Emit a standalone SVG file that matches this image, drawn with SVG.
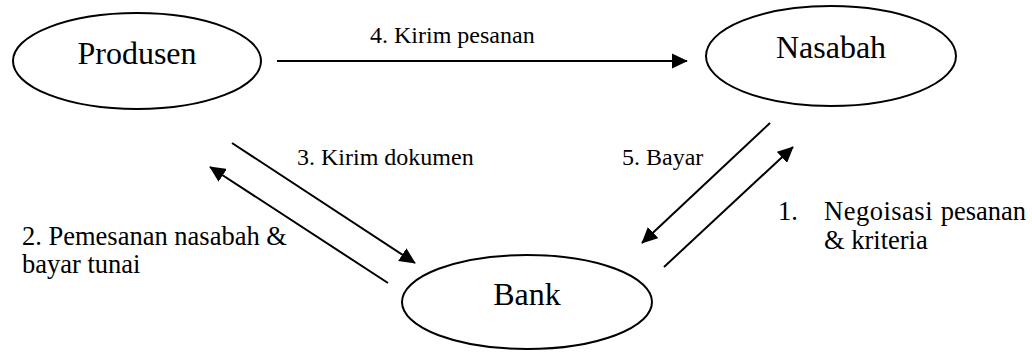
<svg xmlns="http://www.w3.org/2000/svg" width="1032" height="352" viewBox="0 0 1032 352">
<style>
.node{fill:#fff;stroke:#000;stroke-width:2}
.title{font-size:32px;fill:#000;text-anchor:middle}
.lbl{font-size:24px;fill:#000}
.lbl2{font-size:26.5px;fill:#000}
.edge{stroke:#000;stroke-width:2;fill:none;marker-end:url(#ah)}
</style>
<defs>
<marker id="ah" markerWidth="8" markerHeight="7.6" refX="7.6" refY="3.8" orient="auto" markerUnits="strokeWidth" viewBox="0 0 8 7.6">
<path d="M0,0 L8,3.8 L0,7.6 Z" fill="#000"/>
</marker>
</defs>
<rect width="1032" height="352" fill="#fff"/>
<g font-family="Liberation Serif, Tinos, Times New Roman, DejaVu Serif, serif">
<g id="produsen">
<ellipse class="node" cx="137" cy="61" rx="124" ry="48"/>
<text class="title" x="137" y="64">Produsen</text>
</g>
<g id="nasabah">
<ellipse class="node" cx="831" cy="56" rx="125" ry="50"/>
<text class="title" x="831" y="58">Nasabah</text>
</g>
<g id="bank">
<ellipse class="node" cx="527" cy="302" rx="125" ry="47"/>
<text class="title" x="527" y="305">Bank</text>
</g>
<g id="connectors">
<line class="edge" x1="277" y1="61" x2="687" y2="61"/>
<line class="edge" x1="232" y1="143" x2="415" y2="263"/>
<line class="edge" x1="388" y1="283" x2="210" y2="167"/>
<line class="edge" x1="770" y1="123" x2="642" y2="243"/>
<line class="edge" x1="664" y1="267" x2="793" y2="147"/>
</g>
<g id="labels">
<text class="lbl" x="370" y="43">4. Kirim pesanan</text>
<text class="lbl" x="297" y="165">3. Kirim dokumen</text>
<text class="lbl" x="622" y="165">5. Bayar</text>
<text class="lbl2" x="22" y="245">2. Pemesanan nasabah &amp;</text>
<text class="lbl2" x="22" y="273">bayar tunai</text>
<text class="lbl2" x="778" y="220">1.</text>
<text class="lbl2" y="220"><tspan x="824" letter-spacing="0.5">Negoisasi</tspan><tspan x="1026" text-anchor="end">pesanan</tspan></text>
<text class="lbl2" x="824" y="249">&amp; kriteria</text>
</g>
</g>
</svg>
